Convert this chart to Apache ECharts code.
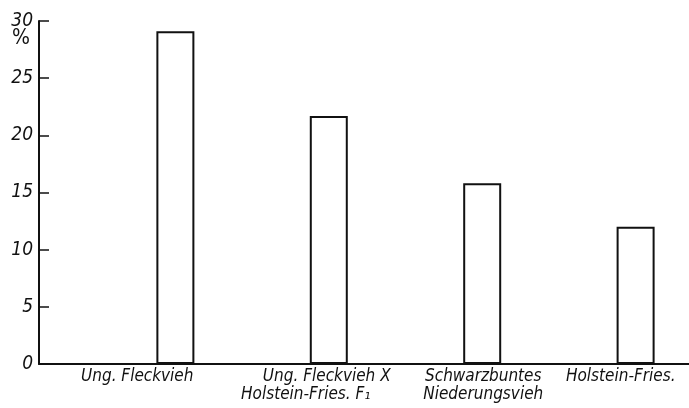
<!DOCTYPE html>
<html><head><meta charset="utf-8">
<script src="https://cdn.jsdelivr.net/npm/echarts@6/dist/echarts.min.js"></script>
<style>html,body{margin:0;padding:0;background:#fff}#c{width:689px;height:408px}</style>
</head><body><div id="c"></div>
<script>
const categories = ['Ung. Fleckvieh', 'Ung. Fleckvieh X\nHolstein-Fries. F\u2081', 'Schwarzbuntes\nNiederungsvieh', 'Holstein-Fries.'];
const values = [29.1, 21.7, 15.8, 12.0];
const yMin = 0, yMax = 30, yStep = 5;
const yUnit = '%';

// label shifts (left padding per line) for hand-lettered look
const labelPad = [[34], [88, 46], [76, 76], [26]];
const FONT = '"Liberation Sans Narrow", "DejaVu Sans Condensed", sans-serif';
const rich = {};
categories.forEach((c, i) => c.split('\n').forEach((ln, j) => {
  rich['l' + i + '_' + j] = {padding: [0, 0, 0, labelPad[i][j] || 0], fontFamily: FONT, fontStyle: 'italic', fontSize: 17, color: '#111', lineHeight: 18};
}));

const chart = echarts.init(document.getElementById('c'));
chart.setOption({
  animation: false,
  backgroundColor: '#fff',
  grid: {left: 39, right: 0, top: 21, bottom: 44, containLabel: false, outerBoundsMode: 'none'},
  graphic: [{
    type: 'text', left: 12, top: 28,
    style: {text: yUnit, fontFamily: FONT, fontSize: 21, fill: '#111'}
  }],
  xAxis: [{
    type: 'value', min: -0.889, max: 3.348,
    axisLine: {show: true, onZero: false, lineStyle: {color: '#111', width: 2}},
    axisTick: {show: false}, axisLabel: {show: false}, splitLine: {show: false}
  }, {
    type: 'category', position: 'bottom', data: categories,
    axisLine: {show: false}, axisTick: {show: false}, splitLine: {show: false},
    axisLabel: {
      interval: 0, margin: 4,
      formatter: (v, i) => v.split('\n').map((ln, j) => '{l' + i + '_' + j + '|' + ln + '}').join('\n'),
      rich: rich
    }
  }],
  yAxis: {
    type: 'value', min: yMin, max: yMax, interval: yStep, position: 'left',
    axisLine: {show: true, onZero: false, lineStyle: {color: '#111', width: 2}},
    axisTick: {show: true, inside: true, length: 10, lineStyle: {color: '#111', width: 1.5}},
    axisLabel: {margin: 6, fontFamily: FONT, fontStyle: 'italic', fontSize: 19, color: '#111'},
    splitLine: {show: false}
  },
  series: [{
    type: 'bar', xAxisIndex: 0, barWidth: 38,
    data: values.map((v, i) => [i, v]),
    itemStyle: {color: '#fff', borderColor: '#111', borderWidth: 2}
  }]
});
</script></body></html>
